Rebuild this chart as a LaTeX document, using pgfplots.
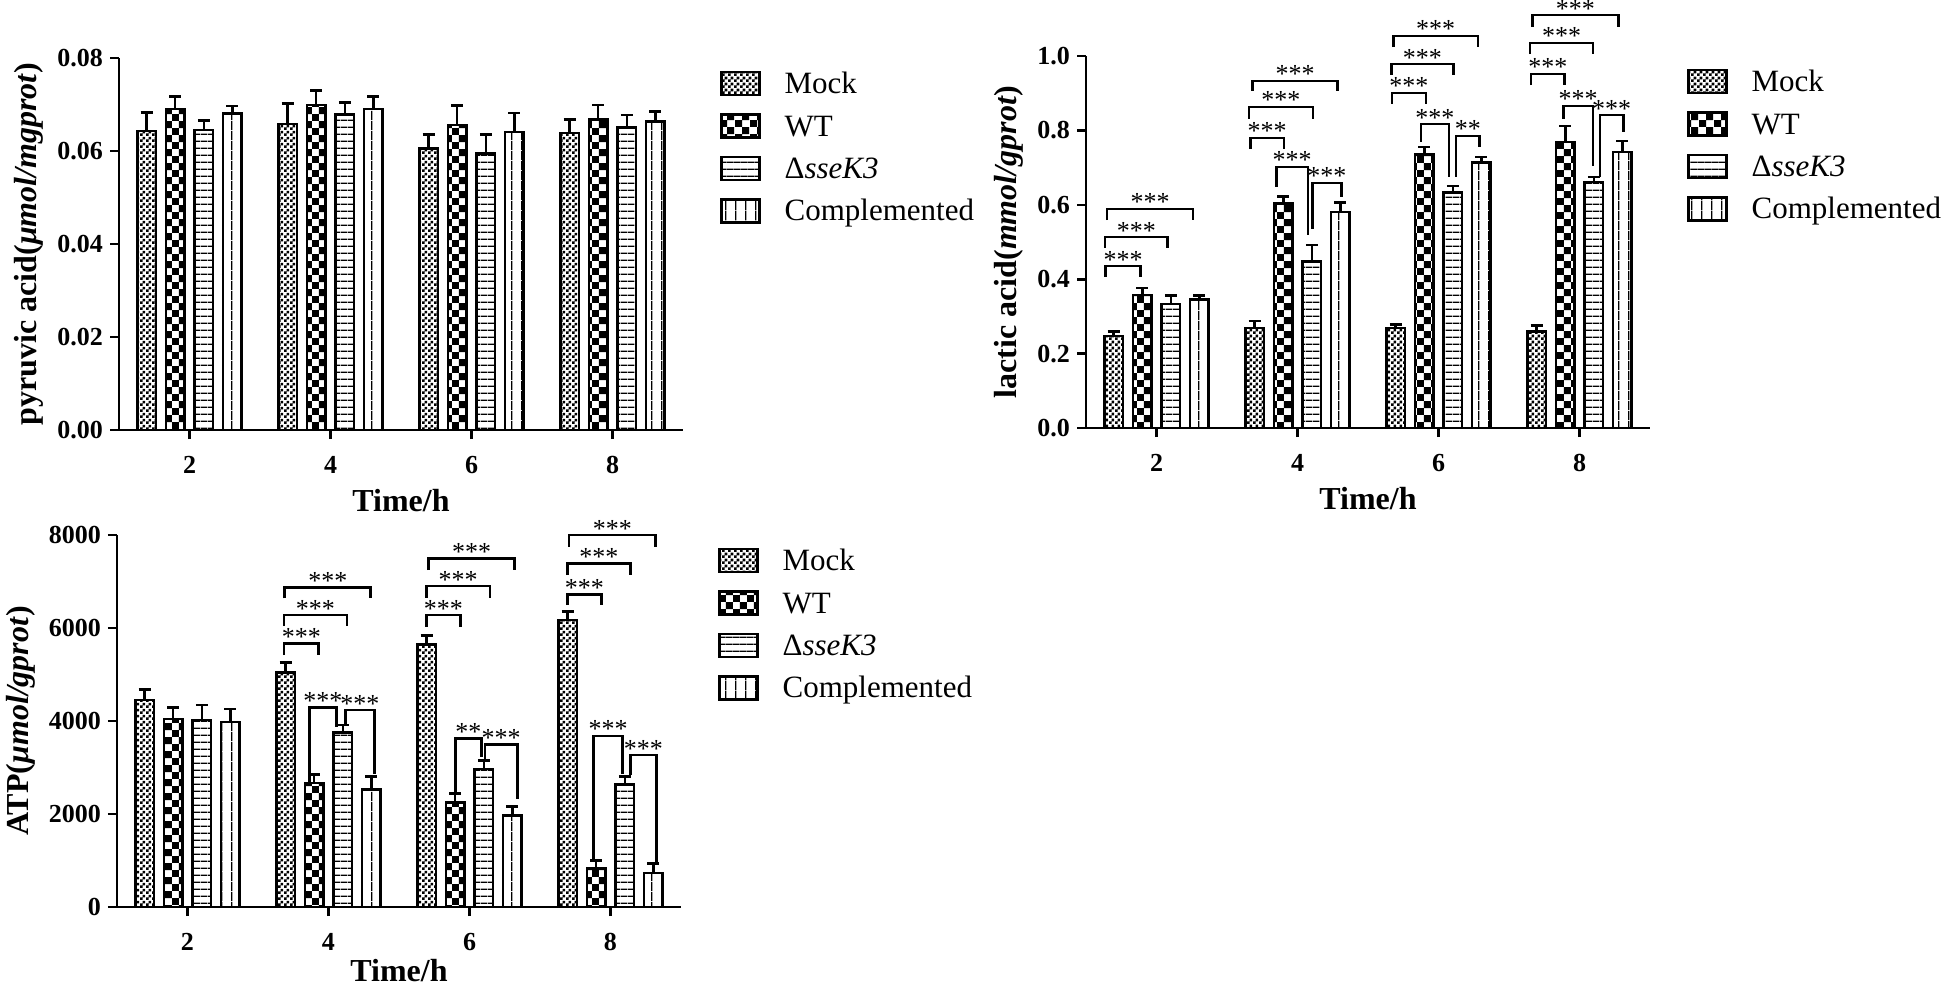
\documentclass[border=0pt]{standalone}
\usepackage{fontspec}
\setmainfont{Liberation Serif}
\usepackage{pgfplots}
\pgfplotsset{compat=1.18}
\usetikzlibrary{patterns}

% bar fills
\pgfdeclarepatternformonly{finecheck}{\pgfqpoint{0pt}{0pt}}{\pgfqpoint{2.8pt}{2.8pt}}{\pgfqpoint{2.8pt}{2.8pt}}{%
  \pgfpathrectangle{\pgfqpoint{0pt}{0pt}}{\pgfqpoint{1.4pt}{1.4pt}}%
  \pgfpathrectangle{\pgfqpoint{1.4pt}{1.4pt}}{\pgfqpoint{1.4pt}{1.4pt}}%
  \pgfusepath{fill}}
\pgfdeclarepatternformonly{coarsecheck}{\pgfqpoint{0pt}{0pt}}{\pgfqpoint{7.2pt}{7.2pt}}{\pgfqpoint{7.2pt}{7.2pt}}{%
  \pgfpathrectangle{\pgfqpoint{0pt}{0pt}}{\pgfqpoint{3.6pt}{3.6pt}}%
  \pgfpathrectangle{\pgfqpoint{3.6pt}{3.6pt}}{\pgfqpoint{3.6pt}{3.6pt}}%
  \pgfusepath{fill}}
\pgfdeclarepatternformonly{hlines}{\pgfqpoint{0pt}{0pt}}{\pgfqpoint{3.6pt}{3.6pt}}{\pgfqpoint{3.6pt}{3.6pt}}{%
  \pgfpathrectangle{\pgfqpoint{0pt}{0pt}}{\pgfqpoint{3.6pt}{0.8pt}}%
  \pgfusepath{fill}}
\pgfdeclarepatternformonly{vlines}{\pgfqpoint{0pt}{0pt}}{\pgfqpoint{5.0357pt}{5pt}}{\pgfqpoint{5.0357pt}{5pt}}{%
  \pgfpathrectangle{\pgfqpoint{0pt}{0pt}}{\pgfqpoint{0.8pt}{5pt}}%
  \pgfusepath{fill}}

\pgfplotsset{
  panel/.style={
    scale only axis, width=282pt, height=186pt,
    xmin=1, xmax=9, xtick={2,4,6,8},
    axis lines*=left, axis line style={line width=1.3pt, -},
    tick align=outside, major tick length=4.5pt,
    tick style={line width=1.3pt, black},
    clip=false, scaled y ticks=false,
    /pgf/number format/assume math mode=true,
    tick label style={font=\fontsize{13}{15}\selectfont\bfseries},
    xticklabel style={yshift=-5pt},
    xlabel style={font=\fontsize{16}{19}\selectfont\bfseries, yshift=-1pt},
    ylabel style={font=\fontsize{16}{19}\selectfont\bfseries},
    xlabel={Time/h},
    legend cell align=left,
    legend style={draw=none, fill=none, inner sep=0pt, outer sep=0pt,
      at={(rel axis cs:1,1)}, anchor=north west, xshift=18.5pt, yshift=-5.8pt,
      font=\fontsize{15.5}{18}\selectfont, row sep=7.2pt,
      nodes={inner sep=0pt, text height=12pt, text depth=2pt},
      /tikz/every odd column/.append style={column sep=12pt}},
  },
  bars/.style={
    ybar, bar width=0.265, bar shift=0pt, draw=black, line width=1.3pt,
    legend image code/.code={
      \draw[##1, line width=1.3pt] (0pt,-5.75pt) rectangle (19pt,5.75pt);},
    error bars/y dir=plus, error bars/y explicit,
    error bars/error bar style={line width=1.3pt},
    error bars/error mark options={rotate=90, mark size=3pt, line width=1.3pt},
  },
}

% significance bracket: x left, x right, y top, y left foot, y right foot, stars
\newcommand{\br}[6]{%
  \draw[line width=1.3pt] (axis cs:#1,#4) -- (axis cs:#1,#3)
    -- node[anchor=base, inner sep=0pt, yshift=-1pt, font=\fontsize{13}{15}\selectfont]{#6}
    (axis cs:#2,#3) -- (axis cs:#2,#5);}

\begin{document}
\begin{tikzpicture}
\useasboundingbox (0pt,0pt) rectangle (973pt,-495pt);

% pyruvic acid
\begin{axis}[panel, at={(59.5pt,-215pt)}, anchor=south west,
    ymin=0, ymax=0.08, ytick={0,0.02,0.04,0.06,0.08},
    yticklabel style={/pgf/number format/fixed, /pgf/number format/fixed zerofill, /pgf/number format/precision=2},
    ylabel={pyruvic acid(\textit{μmol/mgprot})}]
\addplot[bars, pattern=finecheck] coordinates {
  (1.392,0.0643) +- (0,0.0040) (3.392,0.0658) +- (0,0.0044)
  (5.392,0.0605) +- (0,0.0031) (7.392,0.0639) +- (0,0.0029)};
\addplot[bars, pattern=coarsecheck] coordinates {
  (1.797,0.0690) +- (0,0.0027) (3.797,0.0699) +- (0,0.0031)
  (5.797,0.0656) +- (0,0.0042) (7.797,0.0668) +- (0,0.0031)};
\addplot[bars, pattern=hlines] coordinates {
  (2.203,0.0645) +- (0,0.0020) (4.203,0.0678) +- (0,0.0026)
  (6.203,0.0595) +- (0,0.0040) (8.203,0.0651) +- (0,0.0026)};
\addplot[bars, pattern=vlines] coordinates {
  (2.608,0.0681) +- (0,0.0016) (4.608,0.0690) +- (0,0.0027)
  (6.608,0.0641) +- (0,0.0041) (8.608,0.0664) +- (0,0.0021)};
\legend{Mock, WT, Δ\textit{sseK3}, Complemented}
\end{axis}

% lactic acid
\begin{axis}[panel, at={(543pt,-214pt)}, anchor=south west,
    ymin=0, ymax=1, ytick={0,0.2,0.4,0.6,0.8,1.0},
    yticklabel style={/pgf/number format/fixed, /pgf/number format/fixed zerofill, /pgf/number format/precision=1},
    ylabel={lactic acid(\textit{mmol/gprot})}]
\addplot[bars, pattern=finecheck] coordinates {
  (1.392,0.247) +- (0,0.012) (3.392,0.269) +- (0,0.019)
  (5.392,0.269) +- (0,0.010) (7.392,0.260) +- (0,0.015)};
\addplot[bars, pattern=coarsecheck] coordinates {
  (1.797,0.358) +- (0,0.018) (3.797,0.604) +- (0,0.018)
  (5.797,0.735) +- (0,0.020) (7.797,0.769) +- (0,0.043)};
\addplot[bars, pattern=hlines] coordinates {
  (2.203,0.333) +- (0,0.023) (4.203,0.447) +- (0,0.045)
  (6.203,0.633) +- (0,0.018) (8.203,0.661) +- (0,0.014)};
\addplot[bars, pattern=vlines] coordinates {
  (2.608,0.346) +- (0,0.010) (4.608,0.581) +- (0,0.025)
  (6.608,0.713) +- (0,0.015) (8.608,0.742) +- (0,0.030)};
\legend{Mock, WT, Δ\textit{sseK3}, Complemented}
\br{1.28}{1.77}{0.435}{0.406}{0.406}{***}
\br{1.27}{2.16}{0.513}{0.484}{0.484}{***}
\br{1.30}{2.52}{0.589}{0.559}{0.559}{***}
\br{3.33}{3.81}{0.780}{0.750}{0.750}{***}
\br{3.31}{4.22}{0.863}{0.831}{0.831}{***}
\br{3.36}{4.57}{0.933}{0.906}{0.906}{***}
\br{3.70}{4.15}{0.702}{0.648}{0.519}{***}
\br{4.21}{4.62}{0.659}{0.535}{0.621}{***}
\br{5.34}{5.82}{0.901}{0.871}{0.871}{***}
\br{5.33}{6.21}{0.978}{0.949}{0.949}{***}
\br{5.36}{6.56}{1.054}{1.024}{1.024}{***}
\br{5.75}{6.15}{0.817}{0.769}{0.675}{***}
\br{6.25}{6.58}{0.785}{0.675}{0.755}{**}
\br{7.31}{7.79}{0.952}{0.922}{0.922}{***}
\br{7.30}{8.19}{1.035}{1.005}{1.005}{***}
\br{7.33}{8.55}{1.110}{1.078}{1.078}{***}
\br{7.77}{8.19}{0.866}{0.831}{0.704}{***}
\br{8.29}{8.62}{0.841}{0.675}{0.796}{***}
\end{axis}

% ATP
\begin{axis}[panel, at={(58.5pt,-453.5pt)}, anchor=south west,
    ymin=0, ymax=8000, ytick={0,2000,4000,6000,8000},
    yticklabel style={/pgf/number format/fixed, /pgf/number format/1000 sep={}},
    xlabel style={yshift=3.5pt},
    ylabel={ATP(\textit{μmol/gprot})}]
\addplot[bars, pattern=finecheck] coordinates {
  (1.392,4449) +- (0,230) (3.392,5037) +- (0,215)
  (5.392,5647) +- (0,193) (7.392,6170) +- (0,180)};
\addplot[bars, pattern=coarsecheck] coordinates {
  (1.797,4039) +- (0,250) (3.797,2669) +- (0,187)
  (5.797,2253) +- (0,186) (7.797,825) +- (0,179)};
\addplot[bars, pattern=hlines] coordinates {
  (2.203,4018) +- (0,330) (4.203,3752) +- (0,158)
  (6.203,2970) +- (0,187) (8.203,2640) +- (0,173)};
\addplot[bars, pattern=vlines] coordinates {
  (2.608,3982) +- (0,273) (4.608,2526) +- (0,287)
  (6.608,1973) +- (0,194) (8.608,732) +- (0,201)};
\legend{Mock, WT, Δ\textit{sseK3}, Complemented}
\br{3.37}{3.86}{5668}{5417}{5417}{***}
\br{3.37}{4.26}{6278}{6041}{6041}{***}
\br{3.38}{4.60}{6874}{6637}{6637}{***}
\br{3.73}{4.11}{4291}{2655}{3875}{***}
\br{4.24}{4.65}{4233}{3910}{2870}{***}
\br{5.39}{5.87}{6278}{6027}{6027}{***}
\br{5.39}{6.29}{6902}{6651}{6651}{***}
\br{5.42}{6.64}{7498}{7247}{7247}{***}
\br{5.80}{6.17}{3623}{2475}{3229}{**}
\br{6.22}{6.68}{3501}{3193}{2332}{***}
\br{7.39}{7.87}{6723}{6493}{6493}{***}
\br{7.39}{8.28}{7390}{7139}{7139}{***}
\br{7.41}{8.64}{8000}{7749}{7749}{***}
\br{7.76}{8.17}{3681}{1040}{2870}{***}
\br{8.28}{8.65}{3265}{2834}{969}{***}
\end{axis}
\end{tikzpicture}
\end{document}
